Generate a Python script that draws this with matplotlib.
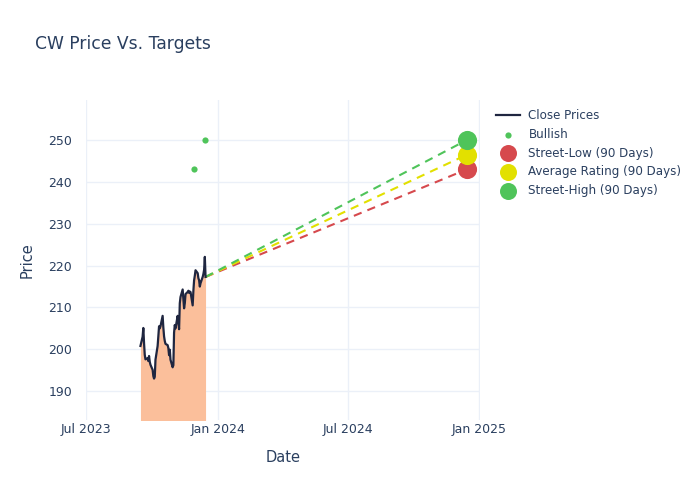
import matplotlib
matplotlib.use("agg")
import matplotlib.pyplot as plt
import matplotlib.dates as mdates
import pandas as pd

# close prices, one per business day from 2023-09-15 to 2023-12-15
close_start = "2023-09-15"
close_end = "2023-12-15"
close_prices = [
    200.8, 203.0, 205.1, 201.5, 198.7, 197.6, 197.9, 197.2, 198.4, 197.0,
    196.3, 195.1, 193.6, 193.0, 193.4, 197.5, 200.8, 203.1, 205.5, 205.0,
    205.5, 208.0, 205.2, 203.1, 202.0, 201.3, 201.0, 200.3, 198.6, 199.9,
    197.5, 195.7, 196.2, 204.0, 205.8, 205.0, 208.0, 206.5, 204.8, 211.0,
    212.5, 214.3, 212.0, 209.8, 211.0, 213.2, 213.7, 214.0, 213.5, 213.8,
    213.7, 210.5, 214.0, 216.5, 217.6, 218.9, 218.2, 217.0, 216.5, 215.0,
    215.8, 217.3, 218.0, 219.0, 222.1, 217.3,
]

bullish_dates = ["2023-11-29", "2023-12-14"]
bullish_targets = [243, 250]

target_date = "2024-12-14"
target_names = ["Street-Low (90 Days)", "Average Rating (90 Days)", "Street-High (90 Days)"]
target_values = [243.0, 246.5, 250.0]
target_colors = ["#d6494d", "#e2e000", "#4fc45a"]

text_color = "#2a3f5f"
grid_color = "#ebf0f8"

plt.rcParams["font.family"] = ["DejaVu Sans"]

dates = pd.bdate_range(close_start, close_end)
last_date = dates[-1]
last_price = close_prices[-1]

fig = plt.figure(figsize=(7, 5), dpi=100)
ax = fig.add_axes([0.123, 0.16, 0.563, 0.64])

y_bottom, y_top = 183.1, 259.6

ax.fill_between(dates, close_prices, y_bottom - 10, color="#fbbf9b", lw=0, zorder=1)
ax.plot(dates, close_prices, color="#1f2640", lw=1.6, zorder=3, label="Close Prices")

ax.scatter(pd.to_datetime(bullish_dates), bullish_targets, s=20, color="#4fc45a",
           zorder=4, label="Bullish", linewidths=0)

# dashed lines from the last close to each target (low, avg, high)
for name, val, col in zip(target_names, target_values, target_colors):
    ax.plot([last_date, pd.Timestamp(target_date)], [last_price, val], color=col,
            lw=1.5, linestyle=(0, (4, 3)), zorder=2)

for name, val, col in zip(target_names, target_values, target_colors):
    ax.scatter([pd.Timestamp(target_date)], [val], s=190, color=col, zorder=5,
               label=name, linewidths=0)

ax.set_xlim(pd.Timestamp("2023-07-01"), pd.Timestamp("2025-01-02"))
ax.set_ylim(y_bottom, y_top)

ax.xaxis.set_major_locator(mdates.MonthLocator(bymonth=[1, 7]))
ax.xaxis.set_major_formatter(mdates.DateFormatter("%b %Y"))
ax.set_yticks([190, 200, 210, 220, 230, 240, 250])

ax.grid(True, color=grid_color, lw=1)
ax.set_axisbelow(True)
for s in ax.spines.values():
    s.set_visible(False)
ax.tick_params(length=0, labelsize=9, colors=text_color)
ax.tick_params(axis="x", pad=2)
ax.tick_params(axis="y", pad=10)

ax.set_xlabel("Date", fontsize=10.5, color=text_color, labelpad=10)
ax.set_ylabel("Price", fontsize=10.5, color=text_color, labelpad=10)

fig.text(0.05, 0.912, "CW Price Vs. Targets", fontsize=12.3, color=text_color, va="center")

leg = ax.legend(loc="upper left", bbox_to_anchor=(0.702, 0.791), bbox_transform=fig.transFigure,
                frameon=False, fontsize=8.6, labelcolor=text_color, handlelength=2.0,
                handletextpad=0.7, labelspacing=0.47, borderaxespad=0)
for h in leg.legend_handles[2:]:
    h.set_sizes([150])
leg.legend_handles[1].set_sizes([20])

fig.savefig("out.png", dpi=100)
